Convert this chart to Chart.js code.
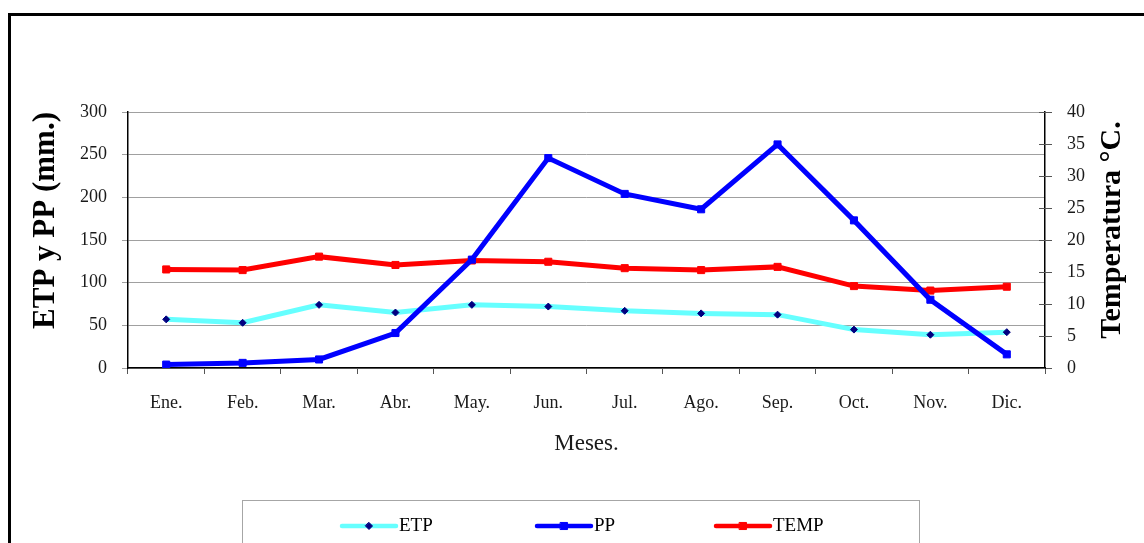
<!DOCTYPE html>
<html><head><meta charset="utf-8">
<script src="https://cdn.jsdelivr.net/npm/chart.js@4/dist/chart.umd.min.js"></script>
<style>
html,body{margin:0;padding:0;background:#fff;overflow:hidden;}
#wrap{position:relative;width:1144px;height:543px;overflow:hidden;}
#frame{position:absolute;left:8px;top:13px;width:1200px;height:600px;border-left:3px solid #000;border-top:3px solid #000;box-sizing:border-box;}
canvas{position:absolute;left:0;top:0;}
</style></head><body>
<div id="wrap"><div id="frame"></div><canvas id="c" width="1144" height="543"></canvas></div>
<script>
const categories = ['Ene.','Feb.','Mar.','Abr.','May.','Jun.','Jul.','Ago.','Sep.','Oct.','Nov.','Dic.'];
const etp  = [57, 53, 74, 65, 74, 72, 67, 64, 62.5, 45, 39, 42];
const pp   = [4, 6, 10, 41, 127, 246, 204, 186, 262, 173, 80, 16];
const temp = [15.4, 15.3, 17.4, 16.1, 16.8, 16.6, 15.6, 15.3, 15.8, 12.8, 12.1, 12.7];
const leftTitle = 'ETP y PP (mm.)';
const rightTitle = 'Temperatura °C.';
const xTitle = 'Meses.';

const FONT = '"Liberation Serif", "DejaVu Serif", serif';
const TXT = '#1a1a1a';

function drawMarker(ctx, style, x, y, r, fill) {
  ctx.save();
  ctx.fillStyle = fill; ctx.strokeStyle = fill; ctx.lineWidth = 1;
  ctx.beginPath();
  if (style === 'rectRot') {
    ctx.moveTo(x, y - r); ctx.lineTo(x + r, y); ctx.lineTo(x, y + r); ctx.lineTo(x - r, y); ctx.closePath();
  } else {
    const s = Math.SQRT1_2 * r;
    ctx.rect(x - s, y - s, 2 * s, 2 * s);
  }
  ctx.fill(); ctx.stroke();
  ctx.restore();
}

const extras = {
  id: 'extras',
  afterDraw(chart) {
    const ctx = chart.ctx;
    // inner tick marks on right axis
    const y1 = chart.scales.y1;
    ctx.save();
    ctx.strokeStyle = '#555'; ctx.lineWidth = 1;
    y1.ticks.forEach(t => {
      const yy = Math.round(y1.getPixelForValue(t.value)) + 0.5;
      ctx.beginPath(); ctx.moveTo(y1.left - 6, yy); ctx.lineTo(y1.left, yy); ctx.stroke();
    });
    ctx.restore();
    // right axis title (reads bottom-to-top)
    ctx.save();
    ctx.translate(1112, 230);
    ctx.rotate(-Math.PI / 2);
    ctx.font = 'bold 30px ' + FONT;
    ctx.fillStyle = '#000';
    ctx.textAlign = 'center'; ctx.textBaseline = 'middle';
    ctx.fillText(rightTitle, 0, 0);
    ctx.restore();
    // legend box
    ctx.save();
    ctx.strokeStyle = '#a6a6a6'; ctx.lineWidth = 1;
    ctx.strokeRect(242.5, 500.5, 677, 80);
    const pos = [[342, 396], [537, 591], [716, 770]];
    const ly = 526;
    chart.data.datasets.forEach((ds, i) => {
      const [a, b] = pos[i];
      ctx.strokeStyle = ds.borderColor; ctx.lineWidth = 4.5; ctx.lineCap = 'round';
      ctx.beginPath(); ctx.moveTo(a, ly); ctx.lineTo(b, ly); ctx.stroke();
      drawMarker(ctx, ds.pointStyle, (a + b) / 2, ly, ds.pointRadius, ds.pointBackgroundColor);
      ctx.font = '19px ' + FONT; ctx.fillStyle = '#000';
      ctx.textAlign = 'left'; ctx.textBaseline = 'middle';
      ctx.fillText(ds.label, b + 3, ly);
    });
    ctx.restore();
  }
};

new Chart(document.getElementById('c'), {
  type: 'line',
  data: {
    labels: categories,
    datasets: [
      { label: 'ETP', data: etp, yAxisID: 'y', borderColor: '#66FFFF', borderWidth: 5,
        pointStyle: 'rectRot', pointRadius: 3.5, pointBackgroundColor: '#000080', pointBorderColor: '#000080', pointBorderWidth: 1, order: 1, tension: 0 },
      { label: 'PP', data: pp, yAxisID: 'y', borderColor: '#0000FF', borderWidth: 5,
        pointStyle: 'rect', pointRadius: 5, pointBackgroundColor: '#0000FF', pointBorderColor: '#0000FF', pointBorderWidth: 1, order: 0, tension: 0 },
      { label: 'TEMP', data: temp, yAxisID: 'y1', borderColor: '#FF0000', borderWidth: 5,
        pointStyle: 'rect', pointRadius: 5, pointBackgroundColor: '#FF0000', pointBorderColor: '#FF0000', pointBorderWidth: 1, order: 2, tension: 0 }
    ]
  },
  options: {
    responsive: false,
    animation: false,
    layout: { padding: { top: 112, left: 0, right: 0, bottom: 0 } },
    plugins: { legend: { display: false }, tooltip: { enabled: false } },
    scales: {
      x: {
        offset: true,
        grid: { display: true, drawOnChartArea: false, tickLength: 6, color: '#555', offset: true },
        border: { color: '#000', width: 1.5 },
        ticks: { font: { family: FONT, size: 18 }, color: TXT, padding: 18, maxRotation: 0, autoSkip: false },
        title: { display: true, text: xTitle, font: { family: FONT, size: 23 }, color: TXT, padding: { top: 0, bottom: 85 } },
        afterFit: s => { s.height = 175; }
      },
      y: {
        position: 'left', min: 0, max: 300,
        grid: { color: '#a0a0a0', tickLength: 6, lineWidth: 1 },
        border: { color: '#000', width: 1.5 },
        ticks: { stepSize: 50, font: { family: FONT, size: 18 }, color: TXT, padding: 15 },
        title: { display: true, text: leftTitle, align: 'end', font: { family: FONT, size: 31, weight: 'bold' }, color: '#000', padding: { top: 27, bottom: 0 } },
        afterFit: s => { s.width = 128; }
      },
      y1: {
        position: 'right', min: 0, max: 40,
        grid: { drawOnChartArea: false, tickLength: 7, color: '#555' },
        border: { color: '#000', width: 1.5 },
        ticks: { stepSize: 5, font: { family: FONT, size: 18 }, color: TXT, padding: 15 },
        afterFit: s => { s.width = 99; }
      }
    }
  },
  plugins: [extras]
});
</script>
</body></html>
